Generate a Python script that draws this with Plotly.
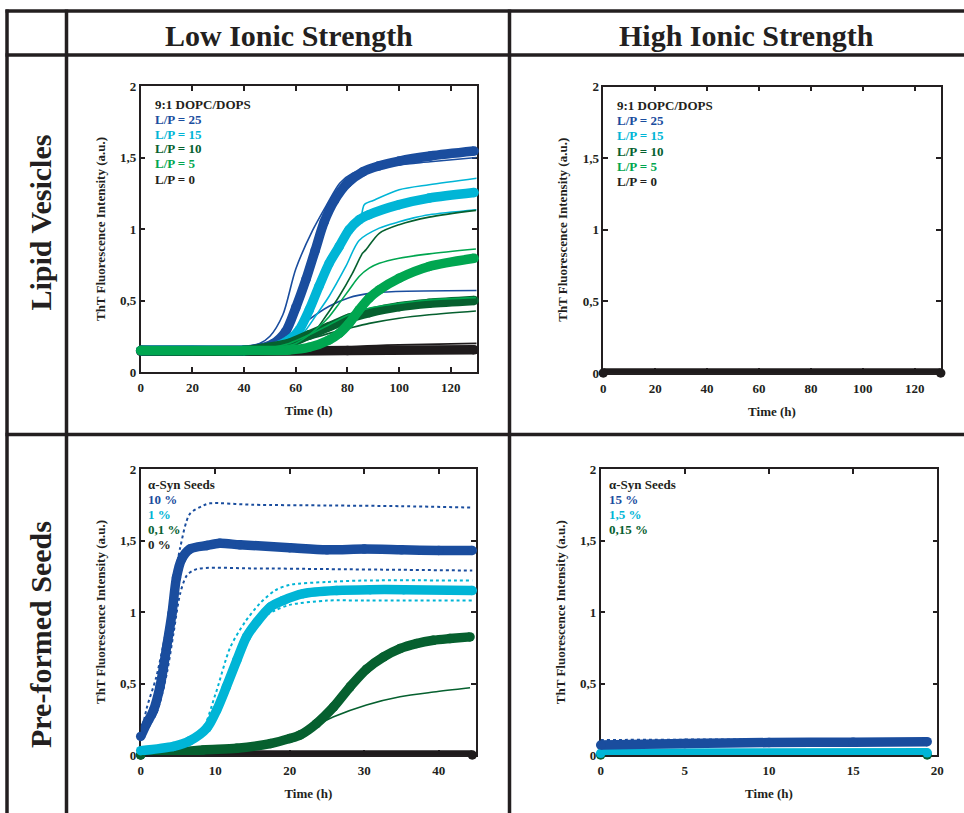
import plotly.graph_objects as go

# ---------------- data (time in h, ThT fluorescence a.u.) ----------------
# Lipid vesicles, low ionic strength
LV_LP25_T = [0, 20, 40, 46, 51, 56, 60, 64, 67.5, 71, 75, 80, 86, 92, 100, 112, 129]
LV_LP25_V = [0.15, 0.15, 0.152, 0.166, 0.195, 0.28, 0.45, 0.65, 0.85, 1.05, 1.2, 1.32, 1.4, 1.44, 1.475, 1.51, 1.545]
LV_LP25_R1_T = [0, 20, 40, 46, 50, 55, 60, 66.5, 72, 77, 82, 88, 100, 112, 130]
LV_LP25_R1_V = [0.18, 0.18, 0.18, 0.2, 0.25, 0.4, 0.72, 0.99, 1.17, 1.32, 1.39, 1.42, 1.45, 1.47, 1.5]
LV_LP25_R2_T = [0, 20, 40, 48, 53.5, 58.7, 63.9, 72.9, 80.6, 88.4, 98.7, 130]
LV_LP25_R2_V = [0.18, 0.18, 0.18, 0.19, 0.2, 0.27, 0.35, 0.46, 0.52, 0.55, 0.563, 0.57]

LV_LP15_T = [0, 20, 40, 48, 52.3, 57.4, 61.3, 65.2, 69, 72.9, 76.8, 80.6, 84.5, 88.4, 100, 111.6, 129]
LV_LP15_V = [0.15, 0.15, 0.15, 0.16, 0.177, 0.224, 0.294, 0.434, 0.6, 0.76, 0.878, 0.994, 1.064, 1.1, 1.17, 1.216, 1.255]
LV_LP15_R1_T = [0, 40, 52, 57, 61, 65, 69, 73, 77, 81, 85, 86.5, 90, 100, 111.6, 130]
LV_LP15_R1_V = [0.16, 0.16, 0.18, 0.23, 0.31, 0.45, 0.62, 0.78, 0.9, 1.0, 1.07, 1.17, 1.2, 1.275, 1.31, 1.355]
LV_LP15_R2_T = [0, 40, 55, 60, 63.9, 68, 72.9, 79.4, 84.5, 92.3, 100, 105.2, 111.6, 130]
LV_LP15_R2_V = [0.16, 0.16, 0.18, 0.22, 0.294, 0.4, 0.53, 0.74, 0.92, 1.006, 1.05, 1.076, 1.1, 1.135]

LV_LP10_T = [0, 40, 49.7, 57.4, 65.2, 72.9, 80.6, 88.4, 100, 111.6, 129]
LV_LP10_V = [0.15, 0.15, 0.173, 0.2, 0.26, 0.317, 0.376, 0.415, 0.457, 0.48, 0.5]
LV_LP10_R1_T = [0, 40, 54.8, 62.6, 67.7, 71.6, 76.8, 81.9, 85.8, 87.1, 92.3, 100, 111.6, 129.7]
LV_LP10_R1_V = [0.16, 0.16, 0.18, 0.22, 0.294, 0.39, 0.53, 0.69, 0.83, 0.854, 0.97, 1.03, 1.083, 1.13]
LV_LP10_R2_T = [0, 40, 57.4, 65.2, 72.9, 80.6, 88.4, 100, 111.6, 129.7]
LV_LP10_R2_V = [0.16, 0.16, 0.19, 0.229, 0.27, 0.306, 0.34, 0.376, 0.4, 0.427]

LV_LP5_T = [0, 40, 57.4, 65.2, 72.9, 76.8, 80.6, 84.5, 88.4, 92.3, 100, 111.6, 129]
LV_LP5_V = [0.15, 0.15, 0.154, 0.173, 0.224, 0.27, 0.34, 0.434, 0.516, 0.574, 0.656, 0.738, 0.795]
LV_LP5_R1_T = [0, 40, 52, 60, 65.2, 69, 72.9, 76.8, 80.6, 84.5, 88.4, 92.3, 100, 111.6, 129.7]
LV_LP5_R1_V = [0.16, 0.16, 0.17, 0.2, 0.26, 0.317, 0.387, 0.48, 0.574, 0.668, 0.726, 0.76, 0.796, 0.826, 0.86]
LV_LP5_R2_T = [0, 40, 50, 57.4, 65.2, 72.9, 80.6, 88.4, 100, 111.6, 129.7]
LV_LP5_R2_V = [0.16, 0.16, 0.17, 0.2, 0.26, 0.33, 0.4, 0.446, 0.48, 0.504, 0.52]

LV_LP0_T = [0, 40, 80, 129]
LV_LP0_V = [0.145, 0.145, 0.15, 0.155]
LV_LP0_R1_T = [0, 60, 70, 85, 100, 130]
LV_LP0_R1_V = [0.15, 0.15, 0.16, 0.18, 0.19, 0.2]

# Lipid vesicles, high ionic strength (all curves flat at baseline)
LVH_T = [0, 130]
LVH_V = [0.0, 0.0]

# Pre-formed seeds, low ionic strength
S10_T = [0, 0.8, 1.7, 2.6, 3.5, 4.2, 4.8, 5.5, 6.6, 8.9, 10.6, 13.3, 20, 25, 30, 35, 40, 44.5]
S10_V = [0.13, 0.22, 0.31, 0.48, 0.76, 0.99, 1.24, 1.37, 1.44, 1.465, 1.48, 1.47, 1.45, 1.435, 1.44, 1.435, 1.43, 1.43]
S10_R1_T = [0, 0.8, 2.1, 3.5, 4.4, 5.3, 6.6, 8.4, 9.3, 15, 25, 35, 44.5]
S10_R1_V = [0.12, 0.326, 0.547, 0.895, 1.17, 1.45, 1.686, 1.744, 1.76, 1.75, 1.745, 1.74, 1.73]
S10_R2_T = [0, 0.4, 2.1, 3.5, 4.4, 5.3, 6.2, 7.5, 15, 25, 35, 44.5]
S10_R2_V = [0.12, 0.15, 0.29, 0.57, 0.85, 1.13, 1.256, 1.3, 1.305, 1.3, 1.295, 1.29]

S1_T = [0, 4.4, 6.6, 8.9, 10.2, 11.5, 12.9, 14.2, 15.6, 17.4, 19.1, 21.8, 26.3, 30.8, 35.3, 44.5]
S1_V = [0.03, 0.06, 0.1, 0.19, 0.314, 0.477, 0.663, 0.826, 0.93, 1.035, 1.08, 1.128, 1.15, 1.156, 1.156, 1.15]
S1_R1_T = [0, 5, 8, 10, 12, 14, 16, 18, 20, 25, 30, 44.5]
S1_R1_V = [0.03, 0.07, 0.15, 0.42, 0.75, 0.93, 1.06, 1.15, 1.19, 1.21, 1.22, 1.22]
S1_R2_T = [0, 5, 8, 10, 12, 14, 16, 18, 20, 25, 30, 44.5]
S1_R2_V = [0.03, 0.06, 0.12, 0.33, 0.6, 0.82, 0.95, 1.01, 1.05, 1.08, 1.08, 1.08]

S01_T = [0, 8.4, 12.9, 17.4, 20, 21.4, 23.6, 25.9, 28.1, 30.3, 32.6, 34.8, 37, 39.3, 41.5, 44.2]
S01_V = [0.0, 0.035, 0.047, 0.08, 0.115, 0.14, 0.22, 0.337, 0.477, 0.6, 0.686, 0.744, 0.779, 0.802, 0.814, 0.826]
S01_R1_T = [0, 8.4, 12.9, 17.4, 20, 21.4, 23, 25.9, 30.3, 34.8, 39.3, 44.2]
S01_R1_V = [0.0, 0.035, 0.047, 0.08, 0.115, 0.14, 0.19, 0.267, 0.35, 0.407, 0.44, 0.47]

S0_T = [0, 44.5]
S0_V = [0.0, 0.0]

# Pre-formed seeds, high ionic strength
HS15_T = [0, 5, 10, 15, 19.4]
HS15_V = [0.07, 0.08, 0.087, 0.09, 0.093]
HS15_R1_T = [0, 10, 19.4]
HS15_R1_V = [0.105, 0.11, 0.112]
HS15b_T = [0, 19.4]
HS15b_V = [0.012, 0.015]
HS015_T = [0, 19.4]
HS015_V = [0.0, 0.0]

# tick labels and texts
Y_TICK_VALUES = [0, 0.5, 1, 1.5, 2]
Y_TICK_LABELS = ["0", "0,5", "1", "1,5", "2"]
X_TICKS_LIPID = [0, 20, 40, 60, 80, 100, 120]
X_TICKS_SEED_LOW = [0, 10, 20, 30, 40]
X_TICKS_SEED_HIGH = [0, 5, 10, 15, 20]
COLUMN_HEADERS = ["Low Ionic Strength", "High Ionic Strength"]
ROW_HEADERS = ["Lipid Vesicles", "Pre-formed Seeds"]
LIPID_LEGEND = ["9:1 DOPC/DOPS", "L/P = 25", "L/P = 15", "L/P = 10", "L/P = 5", "L/P = 0"]
SEED_LOW_LEGEND = ["α-Syn Seeds", "10 %", "1 %", "0,1 %", "0 %"]
SEED_HIGH_LEGEND = ["α-Syn Seeds", "15 %", "1,5 %", "0,15 %"]

# ---------------- style ----------------
W, H = 964, 813
INK = "#231f20"
BLUE = "#1a4d9e"
CYAN = "#00b5d6"
DGREEN = "#06602f"
LGREEN = "#00a650"
BLACK = "#1f1b1c"
SERIF = "Liberation Serif"

LIPID_LEGEND_COLORS = [INK, BLUE, CYAN, DGREEN, LGREEN, INK]
SEED_LOW_LEGEND_COLORS = [INK, BLUE, CYAN, DGREEN, INK]
SEED_HIGH_LEGEND_COLORS = [INK, BLUE, CYAN, DGREEN]


def px(x):
    return x / W


def py(y):
    return 1 - y / H


# panel boxes in pixels: (left, right, top, bottom)
PANELS = {
    "tl": (140.7, 476.7, 86, 372),
    "tr": (603.3, 940.7, 86.5, 373),
    "bl": (140.7, 476.0, 469, 755),
    "br": (600.7, 937.3, 469.3, 755),
}
AX = {"tl": ("x", "y"), "tr": ("x2", "y2"), "bl": ("x3", "y3"), "br": ("x4", "y4")}

fig = go.Figure()


def curve(panel, t, v, color, kind):
    xa, ya = AX[panel]
    if kind == "thick":
        fig.add_trace(go.Scatter(
            x=t, y=v, xaxis=xa, yaxis=ya, mode="lines+markers",
            line=dict(color=color, width=9.5, shape="spline", smoothing=0.8),
            marker=dict(color=color, size=9.5), cliponaxis=False, showlegend=False))
    elif kind == "thin":
        fig.add_trace(go.Scatter(
            x=t, y=v, xaxis=xa, yaxis=ya, mode="lines",
            line=dict(color=color, width=1.6, shape="spline", smoothing=0.8),
            showlegend=False))
    else:
        fig.add_trace(go.Scatter(
            x=t, y=v, xaxis=xa, yaxis=ya, mode="lines",
            line=dict(color=color, width=2, shape="spline", smoothing=0.8, dash="dot"),
            showlegend=False))


# top-left
curve("tl", LV_LP0_T, LV_LP0_V, BLACK, "thick")
curve("tl", LV_LP0_R1_T, LV_LP0_R1_V, BLACK, "thin")
curve("tl", LV_LP25_R1_T, LV_LP25_R1_V, BLUE, "thin")
curve("tl", LV_LP25_R2_T, LV_LP25_R2_V, BLUE, "thin")
curve("tl", LV_LP25_T, LV_LP25_V, BLUE, "thick")
curve("tl", LV_LP15_R1_T, LV_LP15_R1_V, CYAN, "thin")
curve("tl", LV_LP15_R2_T, LV_LP15_R2_V, CYAN, "thin")
curve("tl", LV_LP15_T, LV_LP15_V, CYAN, "thick")
curve("tl", LV_LP10_R1_T, LV_LP10_R1_V, DGREEN, "thin")
curve("tl", LV_LP10_R2_T, LV_LP10_R2_V, DGREEN, "thin")
curve("tl", LV_LP10_T, LV_LP10_V, DGREEN, "thick")
curve("tl", LV_LP5_R1_T, LV_LP5_R1_V, LGREEN, "thin")
curve("tl", LV_LP5_R2_T, LV_LP5_R2_V, LGREEN, "thin")
curve("tl", LV_LP5_T, LV_LP5_V, LGREEN, "thick")

# top-right
curve("tr", LVH_T, LVH_V, BLACK, "thick")

# bottom-left
curve("bl", S0_T, S0_V, BLACK, "thick")
curve("bl", S01_R1_T, S01_R1_V, DGREEN, "thin")
curve("bl", S01_T, S01_V, DGREEN, "thick")
curve("bl", S1_R1_T, S1_R1_V, CYAN, "dot")
curve("bl", S1_R2_T, S1_R2_V, CYAN, "dot")
curve("bl", S1_T, S1_V, CYAN, "thick")
curve("bl", S10_R1_T, S10_R1_V, BLUE, "dot")
curve("bl", S10_R2_T, S10_R2_V, BLUE, "dot")
curve("bl", S10_T, S10_V, BLUE, "thick")

# bottom-right
curve("br", HS015_T, HS015_V, DGREEN, "thick")
curve("br", HS15b_T, HS15b_V, CYAN, "thick")
curve("br", HS15_R1_T, HS15_R1_V, BLUE, "dot")
curve("br", HS15_T, HS15_V, BLUE, "thick")

# ---------------- axes ----------------
TICKFONT = dict(family=SERIF, size=13, color=INK, weight="bold")
TITLEFONT = dict(family=SERIF, size=13, color=INK, weight="bold")
X_RANGES = {"tl": [0, 130], "tr": [0, 130], "bl": [0, 45], "br": [0, 20]}
X_TICKS = {"tl": X_TICKS_LIPID, "tr": X_TICKS_LIPID, "bl": X_TICKS_SEED_LOW, "br": X_TICKS_SEED_HIGH}

layout_axes = {}
for i, key in enumerate(["tl", "tr", "bl", "br"]):
    l, r, t, b = PANELS[key]
    sfx = "" if i == 0 else str(i + 1)
    common = dict(showline=True, linecolor=INK, linewidth=1.5, mirror="ticks",
                  ticks="inside", ticklen=5, tickwidth=1.5, tickcolor=INK, automargin=False,
                  showgrid=False, zeroline=False, tickfont=TICKFONT, layer="below traces")
    layout_axes["xaxis" + sfx] = dict(
        common, domain=[px(l), px(r)], anchor="y" + sfx, range=X_RANGES[key],
        tickvals=X_TICKS[key], ticklabelstandoff=3,
        title=dict(text="Time (h)", font=TITLEFONT, standoff=12))
    layout_axes["yaxis" + sfx] = dict(
        common, domain=[py(b), py(t)], anchor="x" + sfx, range=[0, 2],
        tickvals=Y_TICK_VALUES, ticktext=Y_TICK_LABELS,
        title=dict(text="ThT Fluorescence Intensity (a.u.)", font=TITLEFONT, standoff=12))

fig.update_layout(**layout_axes)

# ---------------- table frame ----------------
LINE = dict(color=INK, width=3.5)
shapes = []
for yy in (11, 55, 434.5):
    shapes.append(dict(type="line", xref="paper", yref="paper",
                       x0=px(5.5), x1=px(964), y0=py(yy), y1=py(yy), line=LINE))
for xx in (7, 66.5, 509.5):
    shapes.append(dict(type="line", xref="paper", yref="paper",
                       x0=px(xx), x1=px(xx), y0=py(9.5), y1=py(813), line=LINE))

annotations = []
HEADER_FONT = dict(family=SERIF, size=30, color=INK, weight="bold")
for text, cx in zip(COLUMN_HEADERS, (289, 746)):
    annotations.append(dict(text=text, x=px(cx), y=py(36), xref="paper", yref="paper",
                            showarrow=False, font=HEADER_FONT, xanchor="center", yanchor="middle"))
for text, cy in zip(ROW_HEADERS, (222.5, 635)):
    annotations.append(dict(text=text, x=px(40), y=py(cy), xref="paper", yref="paper",
                            showarrow=False, font=HEADER_FONT, textangle=-90,
                            xanchor="center", yanchor="middle"))


def legend_block(lines, colors, x0, y0, step):
    for k, (txt, col) in enumerate(zip(lines, colors)):
        annotations.append(dict(text=txt, x=px(x0), y=py(y0 + k * step), xref="paper", yref="paper",
                                showarrow=False, xanchor="left", yanchor="middle",
                                font=dict(family=SERIF, size=13, color=col, weight="bold")))


legend_block(LIPID_LEGEND, LIPID_LEGEND_COLORS, 152.5, 104, 15)
legend_block(LIPID_LEGEND, LIPID_LEGEND_COLORS, 615, 105.5, 15.2)
legend_block(SEED_LOW_LEGEND, SEED_LOW_LEGEND_COLORS, 146, 484, 15)
legend_block(SEED_HIGH_LEGEND, SEED_HIGH_LEGEND_COLORS, 606.5, 484, 15)

fig.update_layout(
    width=W, height=H, autosize=False,
    margin=dict(l=0, r=0, t=0, b=0, autoexpand=False),
    paper_bgcolor="white", plot_bgcolor="white",
    showlegend=False, shapes=shapes, annotations=annotations,
)

fig.write_html("out.html", config={"displayModeBar": False},
               post_script="document.body.style.margin='0px';")
